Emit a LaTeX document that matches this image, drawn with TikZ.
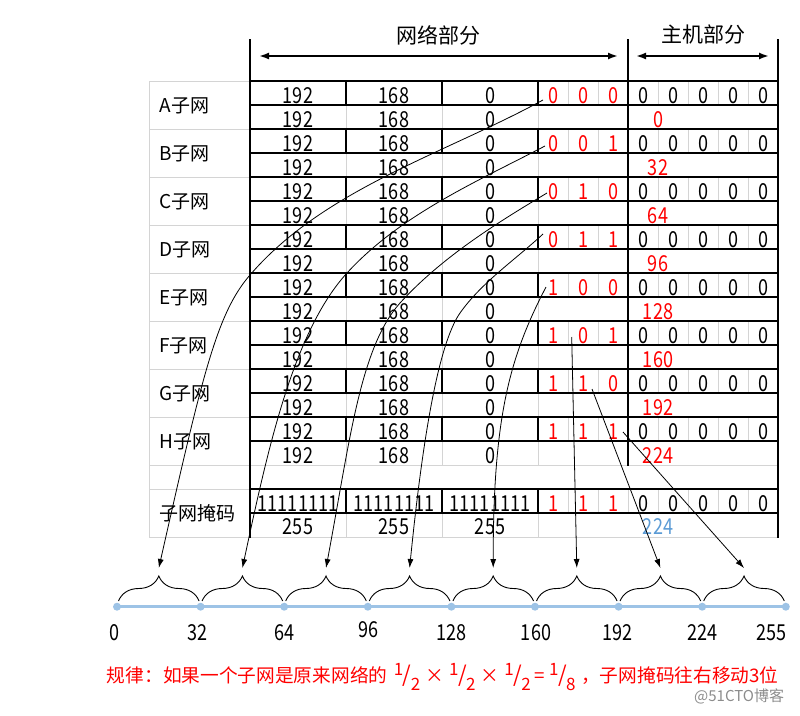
\documentclass[tikz,border=0pt]{standalone}
\usepackage{fontspec}
\setmainfont{Noto Sans CJK SC}
\newfontfamily\numfont[FakeStretch=0.82]{Noto Sans CJK SC}
\usetikzlibrary{arrows.meta, decorations.pathreplacing}
\tikzset{>=latex}
\definecolor{gridgray}{RGB}{212,212,212}
\definecolor{lineblue}{RGB}{157,195,230}
\definecolor{maskblue}{RGB}{91,155,213}
\newcommand{\slfrac}[2]{\raisebox{7pt}{\fontsize{17}{17}\selectfont #1}\kern-0.5pt{\fontsize{22}{22}\selectfont /}\kern-0.5pt\raisebox{-8pt}{\fontsize{17}{17}\selectfont #2}}

\begin{document}
\begin{tikzpicture}[x=1pt, y=-1pt,
  thingrid/.style={gridgray, line width=0.8pt},
  thickgrid/.style={black, line width=2.2pt, line cap=rect},
  num/.style={font=\numfont\fontsize{22}{22}\selectfont, anchor=base, inner sep=0pt},
  lab/.style={font=\fontsize{19}{19}\selectfont, anchor=base west, inner sep=0pt},
  note/.style={red, font=\fontsize{18.7}{18.7}\selectfont, anchor=base west, inner sep=0pt},
  jump/.style={-{Latex[length=9pt,width=6pt]}, line width=0.8pt},
  dimarrow/.style={{Latex[length=10pt,width=7pt]}-{Latex[length=10pt,width=7pt]}, line width=1.8pt}]
\useasboundingbox (0,0) rectangle (800,715);

% header
\node[font=\fontsize{21}{21}\selectfont] (net) at (438.5,35) {网络部分};
\node[font=\fontsize{21}{21}\selectfont] (host) at (703,35) {主机部分};
\coordinate (netL) at (259,56);
\coordinate (netR) at (618,56);
\coordinate (hostL) at (636,56);
\coordinate (hostR) at (769,56);
\draw[dimarrow] (netL) -- (netR);
\draw[dimarrow] (hostL) -- (hostR);

% light grid
\foreach \k in {0,...,19}
  \draw[thingrid] (250,81.3+24*\k) -- (778,81.3+24*\k);
\draw[thingrid] (149.3,81.3) -- (149.3,537.3);
\foreach \k in {0,2,...,16}
  \draw[thingrid] (149.3,81.3+24*\k) -- (250,81.3+24*\k);
\draw[thingrid] (149.3,489.3) -- (250,489.3) (149.3,537.3) -- (250,537.3);
\foreach \x in {346,442,538}
  \draw[thingrid] (\x,81.3) -- (\x,465.3) (\x,489.3) -- (\x,537.3);
\foreach \k in {0,2,4,6,8,10,12,14,17}
  \foreach \x in {568,598,658,688,718,748}
    \draw[thingrid] (\x,81.3+24*\k) -- (\x,105.3+24*\k);
\draw[thingrid] (628,489.3) -- (628,513.3);

% thick lines
\draw[thickgrid] (250,40) -- (250,537.3);
\draw[thickgrid] (778,40) -- (778,537.3);
\draw[thickgrid] (628,40) -- (628,465.3);
\foreach \k in {0,1,2,3,4,5,6,7,8,9,10,11,12,13,14,15,17,18}
  \draw[thickgrid] (250,81.3+24*\k) -- (778,81.3+24*\k);
\foreach \k in {0,2,4,6,8,10,12,14,17}
  \foreach \x in {346,442,538}
    \draw[thickgrid] (\x,81.3+24*\k) -- (\x,105.3+24*\k);

% subnets
\foreach \n/\ba/\bb/\bc/\nv [count=\j from 0] in {A/0/0/0/0, B/0/0/1/32, C/0/1/0/64, D/0/1/1/96, E/1/0/0/128, F/1/0/1/160, G/1/1/0/192, H/1/1/1/224} {
  \pgfmathsetmacro\rtop{81.3+48*\j}
  \node[lab] (lab\n) at (159.3,\rtop+31.2) {{\n}子网};
  \node[num] (ipa\n) at (298,\rtop+21.7) {192};
  \node[num] (ipb\n) at (394,\rtop+21.7) {168};
  \node[num] (ipc\n) at (490,\rtop+21.7) {0};
  \node[num,red] (bita\n) at (553,\rtop+21.7) {\ba};
  \node[num,red] (bitb\n) at (583,\rtop+21.7) {\bb};
  \node[num,red] (bitc\n) at (613,\rtop+21.7) {\bc};
  \foreach \x [count=\i] in {643,673,703,733,763}
    \node[num] (h\i\n) at (\x,\rtop+21.7) {0};
  \node[num] (ipd\n) at (298,\rtop+45.7) {192};
  \node[num] (ipe\n) at (394,\rtop+45.7) {168};
  \node[num] (ipf\n) at (490,\rtop+45.7) {0};
  \node[num,red] (val\n) at (658,\rtop+45.7) {\nv};
}

% mask
\node[lab] (labM) at (159.3,520.5) {子网掩码};
\foreach \x [count=\i] in {298,394,490} {
  \node[num] (ones\i) at (\x,511) {11111111};
  \node[num] (full\i) at (\x,534.5) {255};
}
\foreach \x [count=\i] in {553,583,613}
  \node[num,red] (mb\i) at (\x,511) {1};
\foreach \x [count=\i] in {643,673,703,733,763}
  \node[num] (mh\i) at (\x,511) {0};
\node[num,maskblue] (mval) at (658,534.5) {224};

% number line
\foreach \k in {0,...,8}
  \coordinate (d\k) at (117+83.6*\k,606.7);
\foreach \k in {1,...,8}
  \coordinate (t\k) at (75.2+83.6*\k,568);
\foreach \k in {0,...,7}
  \draw[line width=0.9pt, decorate, decoration={brace, amplitude=25pt}] (118.5+83.6*\k,601) -- (199.1+83.6*\k,601);
\draw[lineblue, line width=3.3pt] (d0) -- (d8);
\foreach \k in {0,...,8}
  \fill[lineblue] (d\k) circle (4pt);
\foreach \nv/\dx/\yb [count=\k from 0] in {0/-2.4/640, 32/-3/640, 64/0/640, 96/1/637, 128/0/640, 160/1/640, 192/-1/640, 224/0/640, 255/-14.5/640}
  \node[num] (n\k) at (117+83.6*\k+\dx,\yb) {\nv};

% arrows to the ranges
\coordinate (sA) at (543,100);
\coordinate (sB) at (545,146);
\coordinate (sC) at (547,193);
\coordinate (sD) at (543,234);
\coordinate (sE) at (546,287);
\coordinate (sF) at (571.7,337);
\coordinate (sG) at (592,389);
\coordinate (sH) at (623,432);
\coordinate (mA) at (250,275);
\coordinate (mB) at (347,273);
\coordinate (mC) at (400,303);
\coordinate (mD) at (460,313);
\draw[jump] (sA) .. controls +(-99,54) and +(74,-86) .. (mA) .. controls +(-33,38) and +(44,-195) .. (t1);
\draw[jump] (sB) .. controls +(-69,36) and +(53,-58) .. (mB) .. controls +(-54,59) and +(25,-117) .. (t2);
\draw[jump] (sC) .. controls +(-52,31) and +(41,-45) .. (mC) .. controls +(-40,45) and +(24,-128) .. (t3);
\draw[jump] (sD) .. controls +(-28,26) and +(22,-31) .. (mD) .. controls +(-23,33) and +(12,-119) .. (t4);
\draw[jump] (sE) .. controls +(-37,71) and +(0,-150) .. (t5);
\draw[jump] (sF) -- (t6);
\draw[jump] (sG) -- (t7);
\draw[jump] (sH) -- (t8);

% rule
\node[note] (rule) at (106.7,682) {规律：如果一个子网是原来网络的};
\node[note] (ratio) at (393.7,682) {\slfrac{1}{2}\hspace{5pt}×\hspace{5pt}\slfrac{1}{2}\hspace{5pt}×\hspace{5pt}\slfrac{1}{2}\hspace{4pt}=\hspace{4pt}\slfrac{1}{8}};
\node[note] (shift) at (581,682) {，子网掩码往右移动3位};
\node[black!45, font=\fontsize{15}{15}\selectfont, anchor=base west, inner sep=0pt] (mark) at (694,701) {@51CTO博客};
\end{tikzpicture}
\end{document}
